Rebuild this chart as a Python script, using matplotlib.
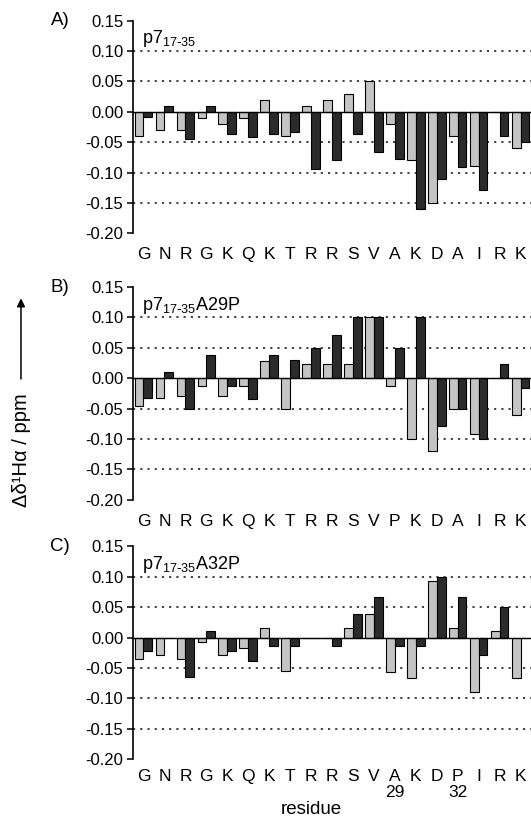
import numpy as np
import matplotlib
matplotlib.use('Agg')
import matplotlib.pyplot as plt
import matplotlib as mpl

mpl.rcParams['font.family'] = ['Liberation Sans', 'DejaVu Sans']
mpl.rcParams['axes.unicode_minus'] = False
mpl.rcParams['mathtext.default'] = 'regular'
label_size = 12

# residue sequences for each panel
res_A = ['G', 'N', 'R', 'G', 'K', 'Q', 'K', 'T', 'R', 'R', 'S', 'V', 'A', 'K', 'D', 'A', 'I', 'R', 'K']
res_B = ['G', 'N', 'R', 'G', 'K', 'Q', 'K', 'T', 'R', 'R', 'S', 'V', 'P', 'K', 'D', 'A', 'I', 'R', 'K']
res_C = ['G', 'N', 'R', 'G', 'K', 'Q', 'K', 'T', 'R', 'R', 'S', 'V', 'A\n29', 'K', 'D', 'P\n32', 'I', 'R', 'K']

# chemical shift deviations (ppm), grey and black series
grey_A = [-0.040, -0.030, -0.030, -0.010, -0.020, -0.010, 0.020, -0.040, 0.010, 0.020,
          0.030, 0.050, -0.020, -0.080, -0.150, -0.040, -0.090, 0.0, -0.060]
black_A = [-0.008, 0.010, -0.045, 0.010, -0.036, -0.041, -0.036, -0.034, -0.094, -0.079,
           -0.037, -0.066, -0.077, -0.160, -0.110, -0.091, -0.129, -0.040, -0.050]

grey_B = [-0.045, -0.032, -0.030, -0.013, -0.030, -0.013, 0.028, -0.050, 0.023, 0.023,
          0.023, 0.100, -0.013, -0.100, -0.120, -0.050, -0.092, 0.0, -0.060]
black_B = [-0.032, 0.011, -0.050, 0.038, -0.012, -0.034, 0.038, 0.030, 0.050, 0.071,
           0.100, 0.100, 0.050, 0.100, -0.079, -0.050, -0.100, 0.023, -0.016]

grey_C = [-0.035, -0.028, -0.035, -0.008, -0.028, -0.018, 0.015, -0.055, 0.0, 0.0,
          0.015, 0.038, -0.056, -0.066, 0.093, 0.015, -0.089, 0.010, -0.066]
black_C = [-0.023, 0.0, -0.065, 0.010, -0.022, -0.038, -0.014, -0.014, 0.0, -0.014,
           0.038, 0.066, -0.014, -0.014, 0.099, 0.066, -0.029, 0.050, 0.0]

titles = [r'p7$_{17\text{-}35}$', r'p7$_{17\text{-}35}$A29P', r'p7$_{17\text{-}35}$A32P']
letters = ['A)', 'B)', 'C)']
yticks = [-0.20, -0.15, -0.10, -0.05, 0.00, 0.05, 0.10, 0.15]
grid_levels = [-0.15, -0.10, -0.05, 0.05, 0.10]

panels = [(res_A, grey_A, black_A), (res_B, grey_B, black_B), (res_C, grey_C, black_C)]
bottoms = [0.7158, 0.3913, 0.0755]
pads = [10, 10, 7]

fig = plt.figure(figsize=(5.31, 8.21), dpi=100)

for k, (res, grey, black) in enumerate(panels):
    ax = fig.add_axes([0.2505, bottoms[k], 0.7495, 0.259])
    x = np.arange(len(res))
    for g in grid_levels:
        ax.axhline(g, color='#333333', lw=1.3, ls=(0, (1.2, 2.8)), zorder=1)
    ax.axhline(0, color='black', lw=1.0, zorder=3)
    ax.bar(x - 0.21, grey, width=0.42, color='#c4c4c4', edgecolor='black', lw=0.8, zorder=2)
    ax.bar(x + 0.21, black, width=0.42, color='#2b2b2b', edgecolor='black', lw=0.8, zorder=2)
    ax.set_xlim(-0.5, len(res) - 0.5)
    ax.set_ylim(-0.20, 0.15)
    ax.set_yticks(yticks)
    ax.set_yticklabels(['%.2f' % v for v in yticks], fontsize=label_size)
    ax.set_xticks(x)
    ax.set_xticklabels(res, fontsize=label_size + 0.5, linespacing=1.1)
    ax.tick_params(axis='x', length=0, pad=pads[k])
    ax.tick_params(axis='y', length=4, width=1.1, direction='out', pad=3)
    for s in ['top', 'right', 'bottom']:
        ax.spines[s].set_visible(False)
    ax.spines['left'].set_linewidth(1.2)
    ax.text(-0.07, 0.12, titles[k], fontsize=13, va='center', ha='left')
    ax.text(-0.183, 0.15, letters[k], fontsize=13.5, va='center', ha='center',
            transform=ax.get_yaxis_transform())
    if k == 2:
        ax.set_xlabel('residue', fontsize=13.5)
        ax.xaxis.set_label_coords(0.447, -0.198)

fig.text(0.041, 0.452, 'Δδ¹Hα / ppm', rotation=90, fontsize=14.5,
         ha='center', va='center')
fig.add_artist(mpl.patches.FancyArrowPatch((0.0395, 0.535), (0.0395, 0.640),
                                           transform=fig.transFigure, arrowstyle='-|>',
                                           mutation_scale=12, lw=1.1, color='black'))

plt.savefig('out.png', dpi=100)
